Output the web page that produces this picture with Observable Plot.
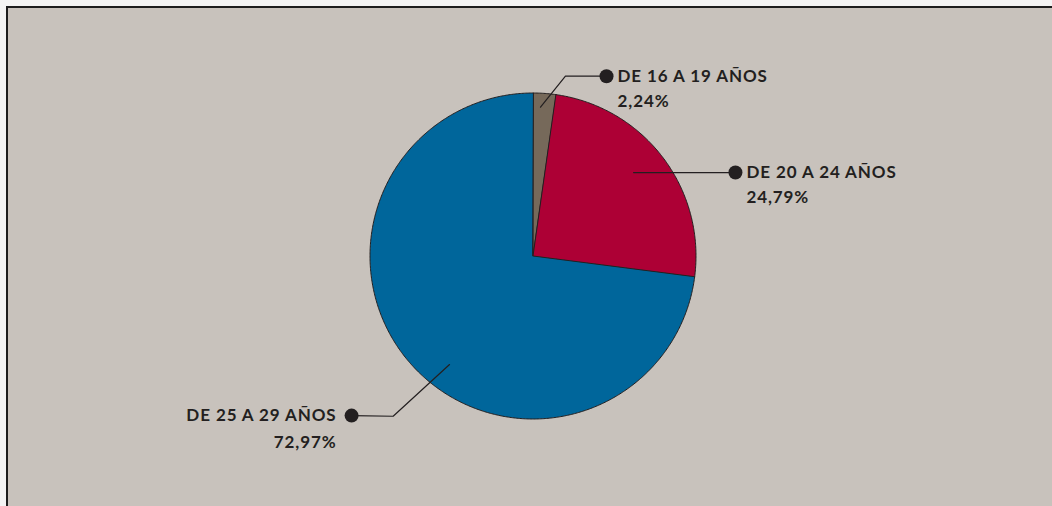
<!DOCTYPE html>
<html>
<head>
<meta charset="utf-8">
<script src="https://cdn.jsdelivr.net/npm/d3@7"></script>
<script src="https://cdn.jsdelivr.net/npm/@observablehq/plot@0.6"></script>
<style>
  html, body { margin: 0; padding: 0; background: #f3f3f3; }
  #wrap { position: relative; width: 1052px; height: 506px; overflow: hidden; background: #f3f3f3; }
  #panel { position: absolute; left: 6px; top: 6px; width: 1100px; height: 600px;
           background: #c8c2bc; border-left: 2.5px solid #1c1c1c; border-top: 2.5px solid #1c1c1c; box-sizing: border-box; }
  #chart { position: absolute; left: 0; top: 0; }
  #chart svg { display: block; background: transparent; }
  #chart text { letter-spacing: 0.9px; }
</style>
</head>
<body>
<div id="wrap"><div id="panel"></div><div id="chart"></div></div>
<script>
// ---- data ----
const categories = ["DE 16 A 19 AÑOS", "DE 20 A 24 AÑOS", "DE 25 A 29 AÑOS"];
const values = [2.24, 24.79, 72.97];
const valueLabels = ["2,24%", "24,79%", "72,97%"];
const colors = ["#76695a", "#ad0035", "#00669b"];

// ---- layout (radius units, relative to pie center; y up) ----
const W = 1052, H = 506;
const CX = 532.5, CY = 255.5, R = 163;
const leaderLayout = {
  "DE 16 A 19 AÑOS": {side: "right", pts: [[0.046, 0.913], [0.199, 1.103], [0.451, 1.103]]},
  "DE 20 A 24 AÑOS": {side: "right", pts: [[0.617, 0.512], [1.242, 0.512]]},
  "DE 25 A 29 AÑOS": {side: "left",  pts: [[-0.512, -0.666], [-0.858, -0.983], [-1.113, -0.979]]}
};

// ---- pie geometry from values ----
const total = d3.sum(values);
const slices = [];
let acc = 0;
categories.forEach((c, i) => {
  const a0 = acc / total * 2 * Math.PI;
  acc += values[i];
  const a1 = acc / total * 2 * Math.PI;
  const n = Math.max(4, Math.ceil((a1 - a0) / (Math.PI / 360)));
  const pts = [{x: 0, y: 0, cat: c}];
  for (let k = 0; k <= n; k++) {
    const a = a0 + (a1 - a0) * k / n;
    pts.push({x: Math.sin(a), y: Math.cos(a), cat: c});
  }
  slices.push({cat: c, color: colors[i], pts});
});

const leaders = [];
const anchors = [];
categories.forEach((c, i) => {
  const L = leaderLayout[c];
  L.pts.forEach(p => leaders.push({cat: c, x: p[0], y: p[1]}));
  const end = L.pts[L.pts.length - 1];
  anchors.push({cat: c, value: valueLabels[i], x: end[0], y: end[1], side: L.side});
});

const font = "Lato, 'Open Sans', sans-serif";
const textStyle = {fontFamily: font, fontWeight: "bold", fontSize: 17, fill: "#231f20"};

const marks = [];
slices.forEach(s => {
  marks.push(Plot.line(s.pts, {x: "x", y: "y", curve: "linear-closed", fill: s.color, stroke: "#231f20", strokeWidth: 1, strokeLinejoin: "round"}));
});
marks.push(Plot.line(leaders, {x: "x", y: "y", z: "cat", stroke: "#231f20", strokeWidth: 1.2}));
marks.push(Plot.dot(anchors, {x: "x", y: "y", r: 7, fill: "#231f20", stroke: "none"}));
const right = anchors.filter(d => d.side === "right");
const left = anchors.filter(d => d.side === "left");
marks.push(Plot.text(right, {x: "x", y: "y", text: "cat", textAnchor: "start", dx: 11, ...textStyle}));
marks.push(Plot.text(right, {x: "x", y: "y", text: "value", textAnchor: "start", dx: 11, dy: 25, ...textStyle}));
marks.push(Plot.text(left, {x: "x", y: "y", text: "cat", textAnchor: "end", dx: -15, ...textStyle}));
marks.push(Plot.text(left, {x: "x", y: "y", text: "value", textAnchor: "end", dx: -15, dy: 27, ...textStyle}));

const chart = Plot.plot({
  width: W, height: H,
  margin: 0,
  style: {background: "transparent", overflow: "visible"},
  x: {domain: [-CX / R, (W - CX) / R], range: [0, W], axis: null},
  y: {domain: [-(H - CY) / R, CY / R], range: [H, 0], axis: null},
  marks
});
document.getElementById("chart").appendChild(chart);
</script>
</body>
</html>
